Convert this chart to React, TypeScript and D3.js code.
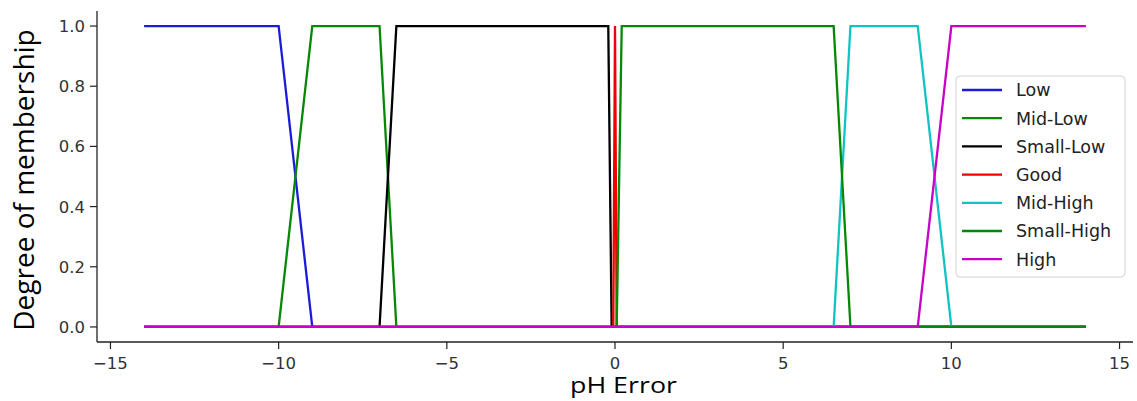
import React from "react";
import * as d3 from "d3";

// ---- Data (membership functions of pH error) ----
const seriesNames = ["Low", "Mid-Low", "Small-Low", "Good", "Mid-High", "Small-High", "High"];
const seriesColors = ["#1c1cd8", "#058805", "#000000", "#f00000", "#10c4c4", "#058805", "#c800c8"];

const lowX = [-14, -10, -9, 14];
const lowY = [1, 1, 0, 0];
const midLowX = [-14, -10, -9, -7, -6.5, 14];
const midLowY = [0, 0, 1, 1, 0, 0];
const smallLowX = [-14, -7, -6.5, -0.2, -0.1, 14];
const smallLowY = [0, 0, 1, 1, 0, 0];
const goodX = [-14, -0.05, 0, 0.05, 14];
const goodY = [0, 0, 1, 0, 0];
const midHighX = [-14, 6.5, 7, 9, 10, 14];
const midHighY = [0, 0, 1, 1, 0, 0];
const smallHighX = [-14, 0.05, 0.2, 6.5, 7, 14];
const smallHighY = [0, 0, 1, 1, 0, 0];
const highX = [-14, 9, 10, 14];
const highY = [0, 0, 1, 1];

const seriesX = [lowX, midLowX, smallLowX, goodX, midHighX, smallHighX, highX];
const seriesY = [lowY, midLowY, smallLowY, goodY, midHighY, smallHighY, highY];

const xTicks = [-15, -10, -5, 0, 5, 10, 15];
const yTicks = [0, 0.2, 0.4, 0.6, 0.8, 1.0];
const xLabel = "pH Error";
const yLabel = "Degree of membership";

const W = 1137;
const H = 401;
const left = 97;
const right = 1133;
const top = 11;
const bottom = 342;

export default function App() {
  const x = d3.scaleLinear().domain([-15.4, 15.4]).range([left, right]);
  const y = d3.scaleLinear().domain([-0.05, 1.05]).range([bottom, top]);
  const line = d3
    .line<[number, number]>()
    .x((d) => x(d[0]))
    .y((d) => y(d[1]));

  const tickFont = "DejaVu Sans, sans-serif";
  const fmtX = (v: number) => (v < 0 ? "\u2212" + Math.abs(v) : String(v));
  const legendX = 956;
  const legendY = 76;
  const rowH = 28.2;

  return (
    <svg
      width={W}
      height={H}
      style={{ position: "absolute", left: 0, top: 0, background: "#fff" }}
    >
      {/* series */}
      {seriesNames.map((name, i) => {
        const pts = seriesX[i].map((v, j) => [v, seriesY[i][j]] as [number, number]);
        return (
          <path
            key={name + i}
            d={line(pts) || ""}
            fill="none"
            stroke={seriesColors[i]}
            strokeWidth={2.3}
            strokeLinejoin="miter"
          />
        );
      })}

      {/* spines */}
      <line x1={left} x2={left} y1={top} y2={bottom} stroke="#222" strokeWidth={1.3} />
      <line x1={left} x2={right} y1={bottom} y2={bottom} stroke="#222" strokeWidth={1.3} />

      {/* y ticks */}
      {yTicks.map((t) => (
        <g key={"y" + t}>
          <line x1={left - 7} x2={left} y1={y(t)} y2={y(t)} stroke="#222" strokeWidth={1.2} />
          <text
            x={left - 12}
            y={y(t)}
            dy="0.36em"
            textAnchor="end"
            fontFamily={tickFont}
            fontSize={16.5}
            fill="#333"
          >
            {t.toFixed(1)}
          </text>
        </g>
      ))}

      {/* x ticks */}
      {xTicks.map((t) => (
        <g key={"x" + t}>
          <line x1={x(t)} x2={x(t)} y1={bottom} y2={bottom + 7} stroke="#222" strokeWidth={1.2} />
          <text
            x={x(t)}
            y={bottom + 27}
            textAnchor="middle"
            fontFamily={tickFont}
            fontSize={16.5}
            fill="#333"
          >
            {fmtX(t)}
          </text>
        </g>
      ))}

      {/* axis labels */}
      <text
        transform={`translate(34, 180) rotate(-90)`}
        textAnchor="middle"
        fontFamily="Open Sans, Noto Sans, sans-serif"
        fontSize={28}
        fill="#000"
      >
        {yLabel}
      </text>
      <text
        x={570}
        y={393}
        fontFamily="Open Sans, Noto Sans, sans-serif"
        fontSize={21}
        textLength={107}
        lengthAdjust="spacingAndGlyphs"
        fill="#000"
      >
        {xLabel}
      </text>

      {/* legend */}
      <rect
        x={legendX}
        y={legendY}
        width={169}
        height={201}
        rx={4}
        fill="#fff"
        fillOpacity={0.85}
        stroke="#d4d4d4"
        strokeWidth={1}
      />
      {seriesNames.map((name, i) => {
        const cy = legendY + 14 + i * rowH;
        return (
          <g key={"lg" + i}>
            <line x1={962} x2={1002} y1={cy} y2={cy} stroke={seriesColors[i]} strokeWidth={2.3} />
            <text
              x={1016}
              y={cy}
              dy="0.36em"
              fontFamily={tickFont}
              fontSize={17.5}
              fill="#222"
            >
              {name}
            </text>
          </g>
        );
      })}
    </svg>
  );
}
